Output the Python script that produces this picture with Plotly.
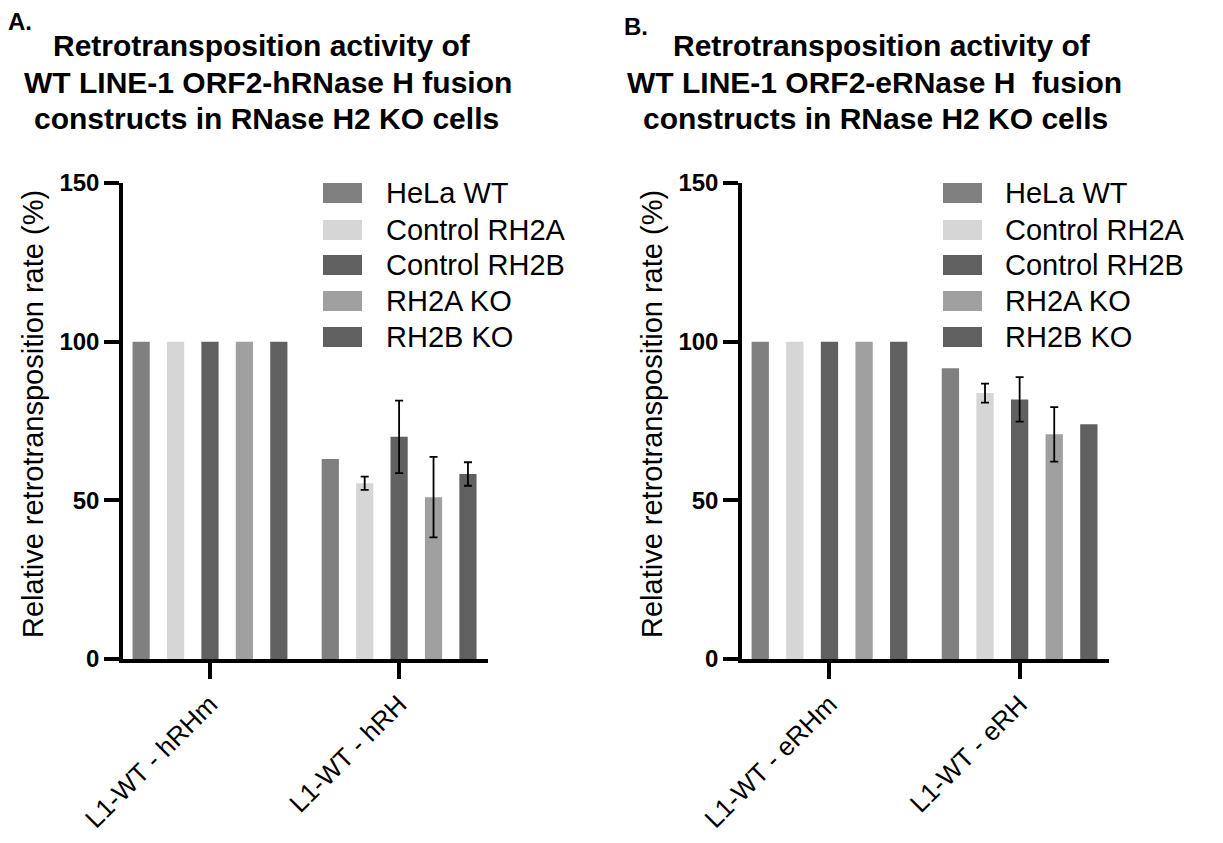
import plotly.graph_objects as go

# ---- data -------------------------------------------------------------
series_names = ["HeLa WT", "Control RH2A", "Control RH2B", "RH2A KO", "RH2B KO"]
series_colors = ["#808080", "#d6d6d6", "#606060", "#a0a0a0", "#606060"]

categories_a = ["L1-WT - hRHm", "L1-WT - hRH"]
hrhm_values = [100, 100, 100, 100, 100]
hrh_values = [63.0, 55.4, 70.0, 51.0, 58.3]
hrh_errors = [None, 2.1, 11.4, 12.7, 3.7]

categories_b = ["L1-WT - eRHm", "L1-WT - eRH"]
erhm_values = [100, 100, 100, 100, 100]
erh_values = [91.6, 83.8, 81.8, 70.8, 74.0]
erh_errors = [None, 3.0, 7.0, 8.6, None]

y_ticks = [0, 50, 100, 150]

title_a_lines = ["Retrotransposition activity of",
                 "WT LINE-1 ORF2-hRNase H fusion",
                 "constructs in RNase H2 KO cells"]
title_b_lines = ["Retrotransposition activity of",
                 "WT LINE-1 ORF2-eRNase H\u00a0 fusion",
                 "constructs in RNase H2 KO cells"]
y_title = "Relative retrotransposition rate (%)"

# ---- page geometry (pixels) -----------------------------------------
W, H = 1223, 843
FONT = "Liberation Sans, Arial, sans-serif"


def fx(x):
    return x / W


def fy(y):
    return 1 - y / H


fig = go.Figure()


def add_panel(xaxis, yaxis, cats, ctrl_vals, test_vals, test_errs):
    for i, name in enumerate(series_names):
        fig.add_trace(go.Bar(
            x=[cats[0]], y=[ctrl_vals[i]], name=name,
            marker=dict(color=series_colors[i], line=dict(width=0)),
            offsetgroup=str(i), xaxis=xaxis, yaxis=yaxis, showlegend=False,
        ))
        err = test_errs[i]
        fig.add_trace(go.Bar(
            x=[cats[1]], y=[test_vals[i]], name=name,
            marker=dict(color=series_colors[i], line=dict(width=0)),
            offsetgroup=str(i), xaxis=xaxis, yaxis=yaxis, showlegend=False,
            error_y=dict(type="data", array=[err], visible=err is not None,
                         color="black", thickness=1.8, width=4),
        ))


add_panel("x", "y", categories_a, hrhm_values, hrh_values, hrh_errors)
add_panel("x2", "y2", categories_b, erhm_values, erh_values, erh_errors)

y_dom = [fy(659), fy(183)]
xa_common = dict(
    type="category", showgrid=False, zeroline=False, automargin=False,
    showline=True, linewidth=3.5, linecolor="black",
    ticks="outside", ticklen=16, tickwidth=3.5, tickcolor="black",
    tickangle=-45, tickfont=dict(family=FONT, size=26, color="black"),
    range=[-0.46, 1.47], fixedrange=True,
)
ya_common = dict(
    range=[0, 150], tickvals=y_ticks, showgrid=False, zeroline=False, automargin=False,
    showline=True, linewidth=3.5, linecolor="black",
    ticks="outside", ticklen=15, tickwidth=3.5, tickcolor="black",
    tickfont=dict(family=FONT, size=24, color="black", weight="bold"),
    domain=y_dom, fixedrange=True,
)

fig.update_layout(
    template="none",
    width=W, height=H, margin=dict(l=0, r=0, t=0, b=0, autoexpand=False),
    paper_bgcolor="white", plot_bgcolor="white",
    barmode="group", bargap=0.09, bargroupgap=0.5,
    showlegend=False,
    xaxis=dict(xa_common, domain=[fx(123), fx(488)], anchor="y",
               categoryorder="array", categoryarray=categories_a),
    yaxis=dict(ya_common, anchor="x"),
    xaxis2=dict(xa_common, domain=[fx(742), fx(1109)], anchor="y2",
                categoryorder="array", categoryarray=categories_b),
    yaxis2=dict(ya_common, anchor="x2"),
    font=dict(family=FONT, color="black"),
)

annotations = []
shapes = []

# panel letters
for letter, lx, ly in [("A.", 20, 21), ("B.", 636, 26)]:
    annotations.append(dict(text=letter, x=fx(lx), y=fy(ly), xref="paper", yref="paper",
                            showarrow=False, xanchor="center", yanchor="middle",
                            font=dict(family=FONT, size=24, color="black", weight="bold")))

# panel titles, one annotation per line
line_y = [45, 82, 118]
for lines, centers in [(title_a_lines, [262, 268, 266]), (title_b_lines, [882, 874, 875])]:
    for text, cx, cy in zip(lines, centers, line_y):
        annotations.append(dict(text=text, x=fx(cx), y=fy(cy), xref="paper", yref="paper",
                                showarrow=False, xanchor="center", yanchor="middle",
                                font=dict(family=FONT, size=30, color="black", weight="bold")))

# y-axis titles
for cx in [33, 652]:
    annotations.append(dict(text=y_title, x=fx(cx), y=fy(414), xref="paper", yref="paper",
                            showarrow=False, xanchor="center", yanchor="middle", textangle=-90,
                            font=dict(family=FONT, size=29, color="black")))

# legends
row_y = [193, 230, 265, 301, 337]
for sx, tx in [(323, 384), (943, 1003)]:
    for i, name in enumerate(series_names):
        shapes.append(dict(type="rect", xref="paper", yref="paper",
                           x0=fx(sx), x1=fx(sx + 39), y0=fy(row_y[i] + 10), y1=fy(row_y[i] - 10),
                           fillcolor=series_colors[i], line=dict(width=0)))
        annotations.append(dict(text=name, x=fx(tx), y=fy(row_y[i]), xref="paper", yref="paper",
                                showarrow=False, xanchor="left", yanchor="middle",
                                font=dict(family=FONT, size=29, color="black")))

fig.update_layout(annotations=annotations, shapes=shapes)

fig.write_html("out.html")
